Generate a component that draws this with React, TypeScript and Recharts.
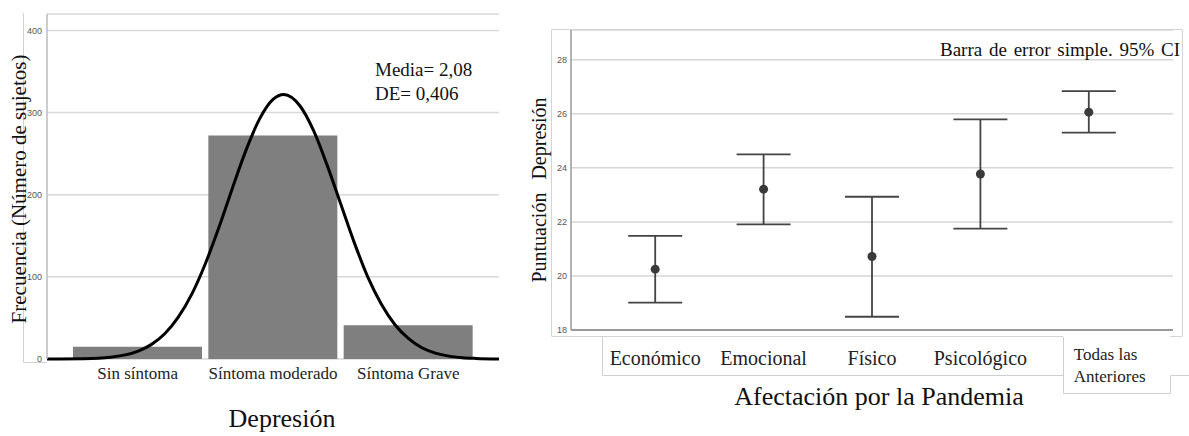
import React from 'react';
import { ComposedChart, Bar, Line, XAxis, YAxis, CartesianGrid, Scatter, ErrorBar } from 'recharts';

// Histograma de depresión
const categorias = ['Sin síntoma', 'Síntoma moderado', 'Síntoma Grave'];
const frecuencias = [15, 272, 41];

// Curva normal (Media 2,08, DE 0,406); x = 1, 2, 3 son los centros de las barras
const curvaX = [0.33, 0.6, 0.8, 0.9, 1.0, 1.1, 1.2, 1.3, 1.4, 1.5, 1.6, 1.7, 1.8, 1.9, 2.0, 2.08, 2.2, 2.3, 2.4, 2.5, 2.6, 2.7, 2.8, 2.9, 3.0, 3.1, 3.2, 3.3, 3.4, 3.5, 3.67];
const curvaY = [0, 0.4, 2.2, 4.7, 9.4, 17.5, 30.7, 50.9, 79, 116, 160, 208, 254, 292, 316, 322, 308, 278, 236, 189, 142, 100, 67, 42, 25, 13.7, 7.2, 3.5, 1.6, 0.7, 0.1];

const yTicksIzq = [0, 100, 200, 300, 400];

// Barras de error por afectación
const afectacion = ['Económico', 'Emocional', 'Físico', 'Psicológico', 'Todas las Anteriores'];
const medias = [20.25, 23.21, 20.72, 23.77, 26.06];
const limInf = [19.01, 21.91, 18.49, 21.75, 25.3];
const limSup = [21.48, 24.5, 22.93, 25.79, 26.84];

const yTicksDer = [18, 20, 22, 24, 26, 28];

const barData = categorias.map((name, i) => ({ name, frec: frecuencias[i] }));
const curveData = curvaX.map((x, i) => ({ x, y: curvaY[i] }));
const errData = afectacion.map((name, i) => ({
  name,
  media: medias[i],
  err: [medias[i] - limInf[i], limSup[i] - medias[i]],
}));

const serif = 'Liberation Serif';
const sans = 'Liberation Sans';

const tickIzq = ({ x, y, payload }: any) => (
  <text x={x} y={y + 20} textAnchor="middle" fontFamily={serif} fontSize={17} fill="#222">
    {payload.value}
  </text>
);

const tickDer = ({ x, y, payload }: any) => {
  if (payload.value === 'Todas las Anteriores') {
    return (
      <g>
        <text x={x - 15} y={y + 30} textAnchor="start" fontFamily={serif} fontSize={17} fill="#222">Todas las</text>
        <text x={x - 15} y={y + 52} textAnchor="start" fontFamily={serif} fontSize={17} fill="#222">Anteriores</text>
      </g>
    );
  }
  return (
    <text x={x} y={y + 35} textAnchor="middle" fontFamily={serif} fontSize={20} fill="#222">
      {payload.value}
    </text>
  );
};

const Punto = ({ cx, cy }: any) => <circle cx={cx} cy={cy} r={4.5} fill="#3a3a3a" />;

export default function App() {
  return (
    <div style={{ position: 'absolute', left: 0, top: 0, width: 1189, height: 436, background: '#fff', overflow: 'hidden', fontFamily: serif }}>
      <div style={{ position: 'absolute', left: 0, top: 0 }}>
        <ComposedChart width={510} height={436} data={barData} barCategoryGap={3} margin={{ top: 14, right: 11, bottom: 47, left: 17 }}>
          <CartesianGrid vertical={false} xAxisId="cat" stroke="#d9d9d9" strokeWidth={1.5} />
          <XAxis
            xAxisId="cat"
            dataKey="name"
            type="category"
            padding={{ left: 23, right: 23 }}
            axisLine={false}
            tickLine={false}
            tickSize={0}
            tickMargin={0}
            interval={0}
            tick={tickIzq}
          />
          <XAxis xAxisId="num" dataKey="x" type="number" domain={[0.33, 3.67]} allowDataOverflow hide />
          <YAxis
            width={30}
            domain={[0, 420]}
            ticks={yTicksIzq}
            axisLine={{ stroke: '#bdbdbd', strokeWidth: 1.5 }}
            tickLine={false}
            tickSize={3}
            tickMargin={2}
            tick={{ fontFamily: sans, fontSize: 9, fill: '#555' }}
          />
          <Bar xAxisId="cat" dataKey="frec" fill="#7f7f7f" isAnimationActive={false} />
          <Line
            xAxisId="num"
            data={curveData}
            dataKey="y"
            type="monotone"
            stroke="#000"
            strokeWidth={3}
            dot={false}
            activeDot={false}
            isAnimationActive={false}
          />
        </ComposedChart>
      </div>

      <div style={{ position: 'absolute', left: 520, top: 0 }}>
        <ComposedChart width={669} height={436} data={errData} margin={{ top: 30, right: 16, bottom: 76, left: 21 }}>
          <CartesianGrid vertical={false} stroke="#d6d6d6" strokeWidth={1.5} />
          <XAxis
            dataKey="name"
            type="category"
            scale="band"
            padding={{ left: 30, right: 30 }}
            axisLine={{ stroke: '#9a9a9a', strokeWidth: 2 }}
            tickLine={false}
            tickSize={0}
            tickMargin={0}
            interval={0}
            tick={tickDer}
          />
          <YAxis
            width={30}
            domain={[18, 29.1]}
            ticks={yTicksDer}
            allowDataOverflow
            axisLine={{ stroke: '#9a9a9a', strokeWidth: 1.5 }}
            tickLine={false}
            tickSize={2}
            tickMargin={2}
            tick={{ fontFamily: sans, fontSize: 9, fill: '#555' }}
          />
          <Scatter dataKey="media" shape={<Punto />} isAnimationActive={false}>
            <ErrorBar dataKey="err" direction="y" width={27} stroke="#444" strokeWidth={1.8} isAnimationActive={false} />
          </Scatter>
        </ComposedChart>
      </div>

      <svg width={1189} height={436} style={{ position: 'absolute', left: 0, top: 0, pointerEvents: 'none', fontFamily: serif }}>
        {/* marco izquierdo */}
        <polyline points="23.5,13 23.5,362.5 47,362.5" fill="none" stroke="#d0d0d0" strokeWidth={1} />
        <text transform="translate(19,189) rotate(-90)" textAnchor="middle" dominantBaseline="central" fontSize={21} fill="#111">
          Frecuencia (Número de sujetos)
        </text>
        <text x={375} y={76} fontSize={19} fill="#111">Media= 2,08</text>
        <text x={375} y={100} fontSize={19} fill="#111">DE= 0,406</text>
        <text x={282} y={427} textAnchor="middle" fontSize={26} fill="#111">Depresión</text>

        {/* marco derecho */}
        <polyline points="551.5,336 551.5,29.5 1182.5,29.5 1182.5,336" fill="none" stroke="#d4d4d4" strokeWidth={1} />
        <line x1={551.5} y1={336.5} x2={1063} y2={336.5} stroke="#d4d4d4" strokeWidth={1} />
        <line x1={1170} y1={336.5} x2={1182.5} y2={336.5} stroke="#d4d4d4" strokeWidth={1} />
        <polyline points="602.5,337 602.5,375.5 1063,375.5" fill="none" stroke="#cfcfcf" strokeWidth={1} />
        <polyline points="1063.5,337 1063.5,393.5 1170.5,393.5 1170.5,375.5 1189,375.5" fill="none" stroke="#cfcfcf" strokeWidth={1} />
        <text transform="translate(539,190) rotate(-90)" textAnchor="middle" dominantBaseline="central" fontSize={20} fill="#111" wordSpacing={8}>
          Puntuación Depresión
        </text>
        <text x={940} y={56} fontSize={19} fill="#111" wordSpacing={2}>Barra de error simple. 95% CI</text>
        <text x={879} y={405} textAnchor="middle" fontSize={26} fill="#111">Afectación por la Pandemia</text>
      </svg>
    </div>
  );
}
